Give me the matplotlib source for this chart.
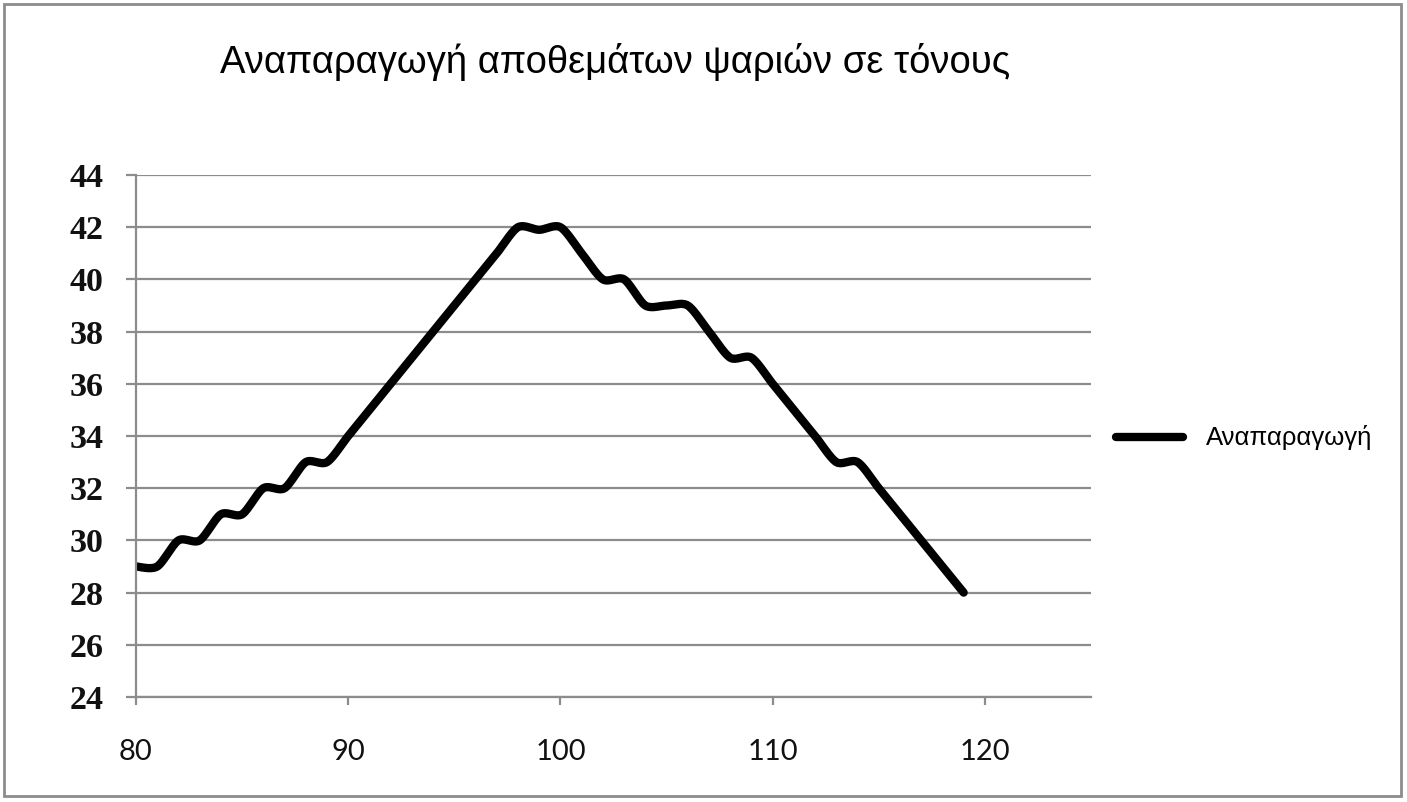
import numpy as np
import matplotlib
matplotlib.use("Agg")
import matplotlib.pyplot as plt
from matplotlib.patches import Rectangle
from matplotlib import font_manager

title = "Αναπαραγωγή αποθεμάτων ψαριών σε τόνους"
series_name = "Αναπαραγωγή"
years = list(range(80, 120))
values = [29, 29, 30, 30, 31, 31, 32, 32, 33, 33,
          34, 35, 36, 37, 38, 39, 40, 41, 42, 41.9,
          42, 41, 40, 40, 39, 39, 39, 38, 37, 37,
          36, 35, 34, 33, 33, 32, 31, 30, 29, 28]
x_ticks = [80, 90, 100, 110, 120]
y_ticks = [24, 26, 28, 30, 32, 34, 36, 38, 40, 42, 44]


def smooth(xs, ys, n=30):
    """Catmull-Rom smoothing similar to spreadsheet 'smoothed line'."""
    xs = np.asarray(xs, float)
    ys = np.asarray(ys, float)
    P = np.column_stack([xs, ys])
    P = np.vstack([P[0], P, P[-1]])
    out = []
    t = np.linspace(0, 1, n, endpoint=False)
    for i in range(1, len(P) - 2):
        p0, p1, p2, p3 = P[i - 1], P[i], P[i + 1], P[i + 2]
        m1 = (p2 - p0) / 2.0 * 0.85
        m2 = (p3 - p1) / 2.0 * 0.85
        h00 = 2 * t**3 - 3 * t**2 + 1
        h10 = t**3 - 2 * t**2 + t
        h01 = -2 * t**3 + 3 * t**2
        h11 = t**3 - t**2
        seg = (np.outer(h00, p1) + np.outer(h10, m1) +
               np.outer(h01, p2) + np.outer(h11, m2))
        out.append(seg)
    out.append(P[-2][None, :])
    arr = np.vstack(out)
    return arr[:, 0], arr[:, 1]


installed = {f.name for f in font_manager.fontManager.ttflist}
title_family = ["Liberation Sans Narrow"] if "Liberation Sans Narrow" in installed else ["Liberation Sans"]
title_family = title_family + ["DejaVu Sans"]

fig = plt.figure(figsize=(14.07, 8.02), dpi=100)
fig.patch.set_facecolor("white")
fig.patches.append(Rectangle((4 / 1407, 6 / 802), 1397 / 1407, 792 / 802,
                             transform=fig.transFigure, fill=False,
                             edgecolor="#8c8c8c", linewidth=2.0))

ax = fig.add_axes([136 / 1407, 1 - 697 / 802, (1091 - 136) / 1407, (697 - 175) / 802])
sx, sy = smooth(years, values)
ax.plot(sx, sy, color="black", linewidth=6.0, solid_capstyle="round",
        solid_joinstyle="round", label=series_name)

ax.set_xlim(80, 125)
ax.set_ylim(24, 44)
ax.set_xticks(x_ticks)
ax.set_yticks(y_ticks)
ax.grid(axis="y", color="#8c8c8c", linewidth=1.6)
ax.set_axisbelow(True)
for s in ["top", "right"]:
    ax.spines[s].set_visible(False)
for s in ["left", "bottom"]:
    ax.spines[s].set_color("#8c8c8c")
    ax.spines[s].set_linewidth(1.6)
ax.tick_params(axis="y", length=7.2, width=1.6, color="#8c8c8c", pad=16,
               labelsize=24.5, labelcolor="#111111")
ax.tick_params(axis="x", length=5.8, width=1.6, color="#8c8c8c", pad=24.5,
               labelsize=21, labelcolor="#111111")
for lab in ax.get_yticklabels():
    lab.set_family(["Liberation Serif", "DejaVu Serif"])
    lab.set_fontweight("bold")
for lab in ax.get_xticklabels():
    lab.set_family(["Lato", "DejaVu Sans"])

fig.text(615 / 1407, 1 - 62 / 802, title, ha="center", va="center",
         fontsize=27.5, family=title_family)

leg = fig.legend(loc="center left", bbox_to_anchor=(1093 / 1407, 1 - 438 / 802),
                 frameon=False, handlelength=2.6, handletextpad=0.9,
                 prop={"family": ["Liberation Sans", "DejaVu Sans"], "size": 18.5})

fig.savefig("out.png", dpi=100, facecolor="white")
